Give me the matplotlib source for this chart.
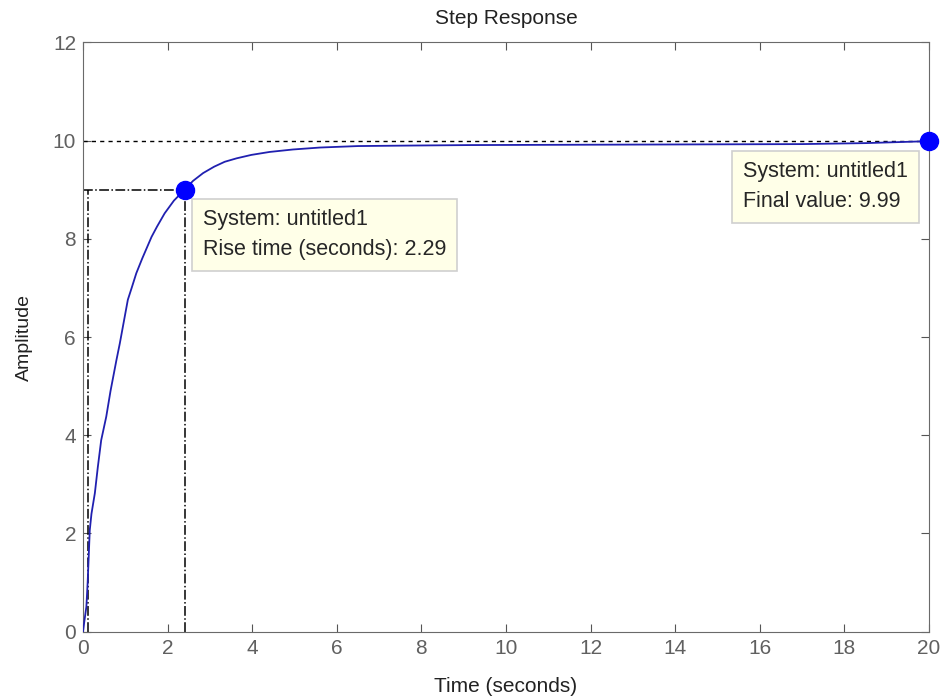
import matplotlib.pyplot as plt

plt.rcParams['font.family'] = ['Liberation Sans', 'DejaVu Sans']

# step response
t = [0.0, 0.03, 0.08, 0.11, 0.16, 0.2, 0.28, 0.35, 0.43, 0.55, 0.65, 0.79, 0.87,
     1.06, 1.15, 1.26, 1.4, 1.62, 1.75, 1.93, 2.15, 2.4, 2.6, 2.84, 3.1, 3.35,
     3.63, 3.98, 4.41, 4.96, 5.6, 6.5, 7.7, 9.1, 11.0, 13.0, 15.0, 17.0, 18.5, 20.0]
y = [0.0, 0.2, 0.51, 1.0, 2.07, 2.4, 2.82, 3.35, 3.9, 4.38, 4.9, 5.53, 5.87,
     6.76, 7.0, 7.3, 7.6, 8.04, 8.25, 8.52, 8.78, 9.0, 9.18, 9.34, 9.47, 9.57,
     9.64, 9.71, 9.77, 9.82, 9.86, 9.89, 9.90, 9.91, 9.915, 9.92, 9.925, 9.93,
     9.95, 9.99]

final_value = 9.99
steady = 10.0
t10, t90 = 0.11, 2.4
rise_time = 2.29

fig = plt.figure(figsize=(9.4, 6.96), dpi=100)
ax = fig.add_axes([0.0883, 0.0924, 0.9, 0.8466])

ax.plot(t, y, color='#2020b0', lw=1.3, zorder=3)
ax.plot([0, 20], [steady, steady], color='black', ls=(0, (3, 3)), lw=1)

# rise time markers
ax.plot([0, t90], [0.9 * steady, 0.9 * steady], color='black', ls='-.', lw=1.1)
ax.plot([t10, t10], [0, 0.9 * steady], color='black', ls='-.', lw=1.1)
ax.plot([t90, t90], [0, 0.9 * steady], color='black', ls='-.', lw=1.1)

ax.plot([t90], [0.9 * steady], 'o', color='#0000ff', ms=13, zorder=5)
ax.plot([20], [final_value], 'o', color='#0000ff', ms=13, zorder=5, clip_on=False)

box = dict(boxstyle='square,pad=0.5', fc='#ffffe8', ec='#cfcfcf', lw=1.2)
ax.text(2.83, 8.6, 'System: untitled1\nRise time (seconds): %.2f' % rise_time,
        fontsize=15.5, va='top', ha='left', bbox=box, color='#262626', linespacing=1.55)
ax.text(15.6, 9.58, 'System: untitled1\nFinal value: %.2f' % final_value,
        fontsize=15.5, va='top', ha='left', bbox=box, color='#262626', linespacing=1.55)

ax.set_xlim(0, 20)
ax.set_ylim(0, 12)
ax.set_xticks(range(0, 21, 2))
ax.set_yticks(range(0, 13, 2))
ax.tick_params(direction='in', top=True, right=True, length=6, color='#555555',
               labelcolor='#606060', labelsize=15, pad=5)
for s in ax.spines.values():
    s.set_color('#6a6a6a')

ax.set_title('Step Response', fontsize=15, pad=13, color='#222222')
ax.set_xlabel('Time (seconds)', fontsize=15, labelpad=14, color='#222222')
ax.set_ylabel('Amplitude', fontsize=14, labelpad=14, color='#222222')

fig.savefig('out.png', dpi=100)
